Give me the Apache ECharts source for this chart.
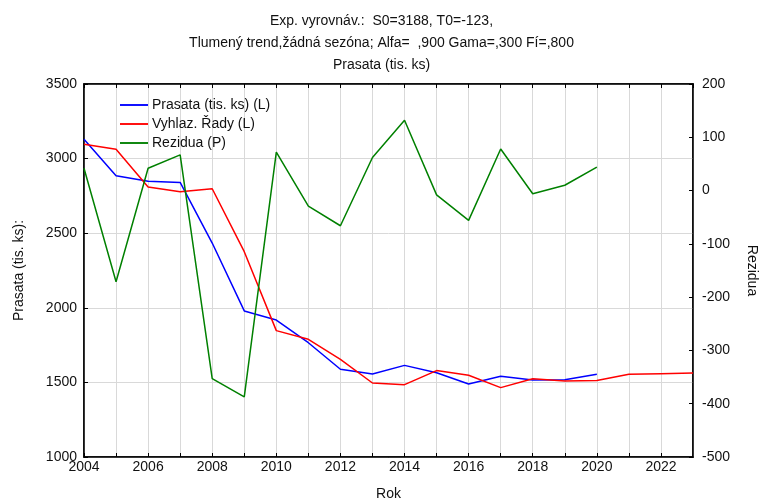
<!DOCTYPE html>
<html>
<head>
<meta charset="utf-8">
<script src="https://cdn.jsdelivr.net/npm/echarts@6/dist/echarts.min.js"></script>
<style>html,body{margin:0;padding:0;background:#fff}#c{width:763px;height:502px}</style>
</head>
<body>
<div id="c"></div>
<script>
const years = [2004,2005,2006,2007,2008,2009,2010,2011,2012,2013,2014,2015,2016,2017,2018,2019,2020,2021,2022,2023];
const prasata = [3129,2885,2848,2840,2434,1979,1918,1766,1588,1556,1614,1565,1489,1541,1516,1518,1554];
const vyhlaz = [3096,3062,2810,2778,2798,2376,1847,1789,1655,1496,1485,1579,1548,1465,1525,1510,1512,1554,1558,1563];
const rezidua = [42,-171,42,67,-353,-387,72,-29,-66,62,132,-8,-56,78,-6,10,44];
const titleLines = ["Exp. vyrovnáv.:  S0=3188, T0=-123,", "Tlumený trend,žádná sezóna; Alfa=  ,900 Gama=,300 Fí=,800", "Prasata (tis. ks)"];

const font = "Liberation Sans, Arial, sans-serif";
const pair = (xs, ys) => ys.map((v, i) => [xs[i], v]);
const plain = v => String(v);

const chart = echarts.init(document.getElementById('c'));
chart.setOption({
  animation: false,
  textStyle: { fontFamily: font },
  title: {
    text: titleLines.join('\n'),
    left: 'center', top: 5,
    textStyle: { fontFamily: font, fontSize: 14, fontWeight: 'normal', color: '#111', lineHeight: 22 }
  },
  legend: {
    orient: 'vertical', left: 115, top: 93,
    itemWidth: 28, itemHeight: 10, itemGap: 5,
    icon: 'path://M0,4 L30,4 L30,6 L0,6 Z',
    textStyle: { fontFamily: font, fontSize: 14, color: '#111', padding: [0, 0, 0, -1] },
    data: ['Prasata (tis. ks) (L)', 'Vyhlaz. Řady (L)', 'Rezidua (P)']
  },
  grid: { left: 84, right: 70, top: 84, bottom: 45, show: true, borderColor: '#000', borderWidth: 1.5,
          containLabel: false, outerBoundsMode: 'none' },
  xAxis: [{
    type: 'value', min: 2004, max: 2023, interval: 1,
    name: 'Rok', nameLocation: 'middle', nameGap: 30,
    nameTextStyle: { fontFamily: font, fontSize: 14, color: '#111' },
    axisLine: { onZero: false, lineStyle: { color: '#000', width: 1.5 } },
    axisTick: { inside: true, length: 4, lineStyle: { color: '#000' } },
    axisLabel: { fontFamily: font, fontSize: 14, color: '#111', margin: 3,
      formatter: v => (v % 2 === 0 ? String(v) : ''), showMaxLabel: false },
    splitLine: { show: true, lineStyle: { color: '#d9d9d9', width: 1 } }
  }, {
    type: 'value', min: 2004, max: 2023, interval: 1, position: 'top',
    axisLine: { show: true, onZero: false, lineStyle: { color: '#000', width: 1.5 } },
    axisTick: { inside: true, length: 4, lineStyle: { color: '#000' } },
    axisLabel: { show: false }, splitLine: { show: false }
  }],
  yAxis: [{
    type: 'value', min: 1000, max: 3500, interval: 500,
    name: 'Prasata (tis. ks):', nameLocation: 'middle', nameGap: 58, nameRotate: 90,
    nameTextStyle: { fontFamily: font, fontSize: 14, color: '#111' },
    axisLine: { show: true, onZero: false, lineStyle: { color: '#000', width: 1.5 } },
    axisTick: { show: true, inside: true, length: 4, lineStyle: { color: '#000' } },
    axisLabel: { fontFamily: font, fontSize: 14, color: '#111', margin: 7, formatter: plain },
    splitLine: { show: true, lineStyle: { color: '#d9d9d9', width: 1 } }
  }, {
    type: 'value', min: -500, max: 200, interval: 100, position: 'right',
    name: 'Rezidua', nameLocation: 'middle', nameGap: 52, nameRotate: -90,
    nameTextStyle: { fontFamily: font, fontSize: 14, color: '#111' },
    axisLine: { show: true, onZero: false, lineStyle: { color: '#000', width: 1.5 } },
    axisTick: { show: true, inside: true, length: 4, lineStyle: { color: '#000' } },
    axisLabel: { fontFamily: font, fontSize: 14, color: '#111', margin: 9, formatter: plain },
    splitLine: { show: false }
  }],
  series: [{
    name: 'Prasata (tis. ks) (L)', type: 'line', xAxisIndex: 0, yAxisIndex: 0,
    data: pair(years, prasata), showSymbol: false, symbol: 'none',
    lineStyle: { color: '#0000ff', width: 1.5 }, itemStyle: { color: '#0000ff' }
  }, {
    name: 'Vyhlaz. Řady (L)', type: 'line', xAxisIndex: 0, yAxisIndex: 0,
    data: pair(years, vyhlaz), showSymbol: false, symbol: 'none',
    lineStyle: { color: '#ff0000', width: 1.5 }, itemStyle: { color: '#ff0000' }
  }, {
    name: 'Rezidua (P)', type: 'line', xAxisIndex: 0, yAxisIndex: 1,
    data: pair(years, rezidua), showSymbol: false, symbol: 'none',
    lineStyle: { color: '#008000', width: 1.5 }, itemStyle: { color: '#008000' }
  }]
});
</script>
</body>
</html>
